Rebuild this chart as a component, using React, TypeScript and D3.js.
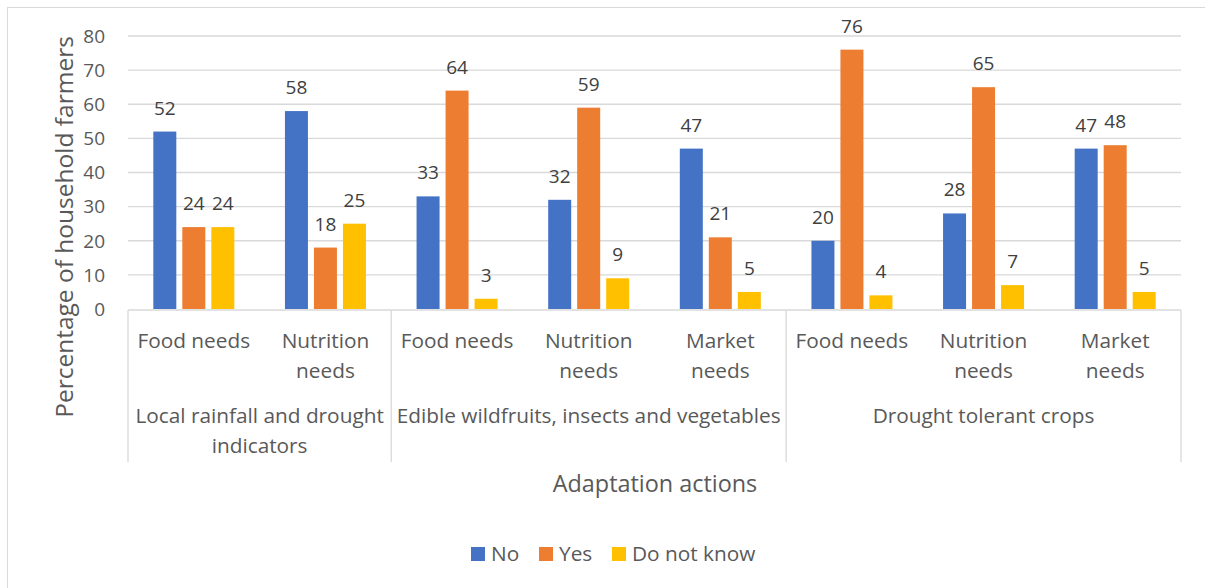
import React from "react";
import * as d3 from "d3";

// Sub-categories (need types) grouped under adaptation actions
const groups = [
  { lines: ["Local rainfall and drought", "indicators"], size: 2 },
  { lines: ["Edible wildfruits, insects and vegetables"], size: 3 },
  { lines: ["Drought tolerant crops"], size: 3 },
];
const categories = [
  ["Food needs"],
  ["Nutrition", "needs"],
  ["Food needs"],
  ["Nutrition", "needs"],
  ["Market", "needs"],
  ["Food needs"],
  ["Nutrition", "needs"],
  ["Market", "needs"],
];
const seriesNames = ["No", "Yes", "Do not know"];
const noValues = [52, 58, 33, 32, 47, 20, 28, 47];
const yesValues = [24, 18, 64, 59, 21, 76, 65, 48];
const dontKnowValues = [24, 25, 3, 9, 5, 4, 7, 5];
const yTicks = [0, 10, 20, 30, 40, 50, 60, 70, 80];
const colors = ["#4472C4", "#ED7D31", "#FFC000"];

const W = 1205;
const H = 588;
const FONT = "'Open Sans', sans-serif";

export default function App() {
  const left = 128;
  const right = 1181;
  const top = 36;
  const bottom = 309;

  const series = [noValues, yesValues, dontKnowValues];
  const y = d3.scaleLinear().domain([0, 80]).range([bottom, top]);
  const x = d3
    .scaleBand<number>()
    .domain(d3.range(categories.length))
    .range([left, right])
    .paddingInner(0)
    .paddingOuter(0);
  const barW = 23;
  const step = 29;

  // group boundary positions
  let acc = 0;
  const groupSpans = groups.map((g) => {
    const x0 = x(acc)!;
    acc += g.size;
    const x1 = acc < categories.length ? x(acc)! : right;
    return { ...g, x0, x1 };
  });

  const axisText = "#595959";
  const labelText = "#404040";
  const grid = "#D9D9D9";
  const numSize = 19;
  const textSize = 20.8;

  return (
    <div style={{ position: "absolute", left: 0, top: 0 }}>
      <svg width={W} height={H} style={{ display: "block" }} fontFamily={FONT}>
        <rect x={0} y={0} width={W} height={H} fill="#fff" />
        <rect x={7.5} y={7.5} width={W - 6} height={H - 6} fill="none" stroke={grid} />

        {/* gridlines and value axis */}
        {yTicks.map((t) => (
          <g key={t}>
            {t > 0 && (
              <line x1={left} x2={right} y1={y(t)} y2={y(t)} stroke={grid} strokeWidth={1.3} />
            )}
            <text
              x={105}
              y={y(t)}
              dy="0.36em"
              textAnchor="end"
              fontSize={numSize}
              fill={axisText}
            >
              {t}
            </text>
          </g>
        ))}

        {/* bars with value labels */}
        {series.map((vals, si) =>
          vals.map((v, ci) => {
            const cx = x(ci)! + x.bandwidth() / 2 + (si - 1) * step;
            return (
              <g key={`${si}-${ci}`}>
                <rect
                  x={cx - barW / 2}
                  y={y(v)}
                  width={barW}
                  height={bottom - y(v)}
                  fill={colors[si]}
                />
                <text
                  x={cx}
                  y={y(v) - 17}
                  textAnchor="middle"
                  fontSize={numSize}
                  fill={labelText}
                >
                  {v}
                </text>
              </g>
            );
          })
        )}

        {/* category axis table */}
        <line x1={left} x2={right} y1={bottom + 1} y2={bottom + 1} stroke={grid} strokeWidth={1.3} />
        {[left, ...groupSpans.map((g) => g.x1)].map((gx, i) => (
          <line key={i} x1={gx} x2={gx} y1={bottom + 1} y2={462} stroke={grid} strokeWidth={1.3} />
        ))}
        {categories.map((lines, ci) => (
          <text
            key={ci}
            x={x(ci)! + x.bandwidth() / 2}
            y={348}
            textAnchor="middle"
            fontSize={textSize}
            fill={axisText}
          >
            {lines.map((l, li) => (
              <tspan key={li} x={x(ci)! + x.bandwidth() / 2} dy={li === 0 ? 0 : 30}>
                {l}
              </tspan>
            ))}
          </text>
        ))}
        {groupSpans.map((g, gi) => (
          <text
            key={gi}
            x={(g.x0 + g.x1) / 2}
            y={423}
            textAnchor="middle"
            fontSize={textSize}
            fill={axisText}
          >
            {g.lines.map((l, li) => (
              <tspan key={li} x={(g.x0 + g.x1) / 2} dy={li === 0 ? 0 : 30}>
                {l}
              </tspan>
            ))}
          </text>
        ))}

        {/* axis titles */}
        <text x={655} y={492} textAnchor="middle" fontSize={23.4} fill={axisText}>
          Adaptation actions
        </text>
        <text
          transform={`translate(73,227) rotate(-90)`}
          textAnchor="middle"
          fontSize={24.5}
          fill={axisText}
        >
          Percentage of household farmers
        </text>

        {/* legend */}
        {seriesNames.map((name, i) => {
          const lx = [471, 539, 612][i];
          return (
            <g key={name}>
              <rect x={lx} y={547} width={14} height={14} fill={colors[i]} />
              <text x={lx + 20} y={554} dy="0.36em" fontSize={textSize} fill={axisText}>
                {name}
              </text>
            </g>
          );
        })}
      </svg>
    </div>
  );
}
